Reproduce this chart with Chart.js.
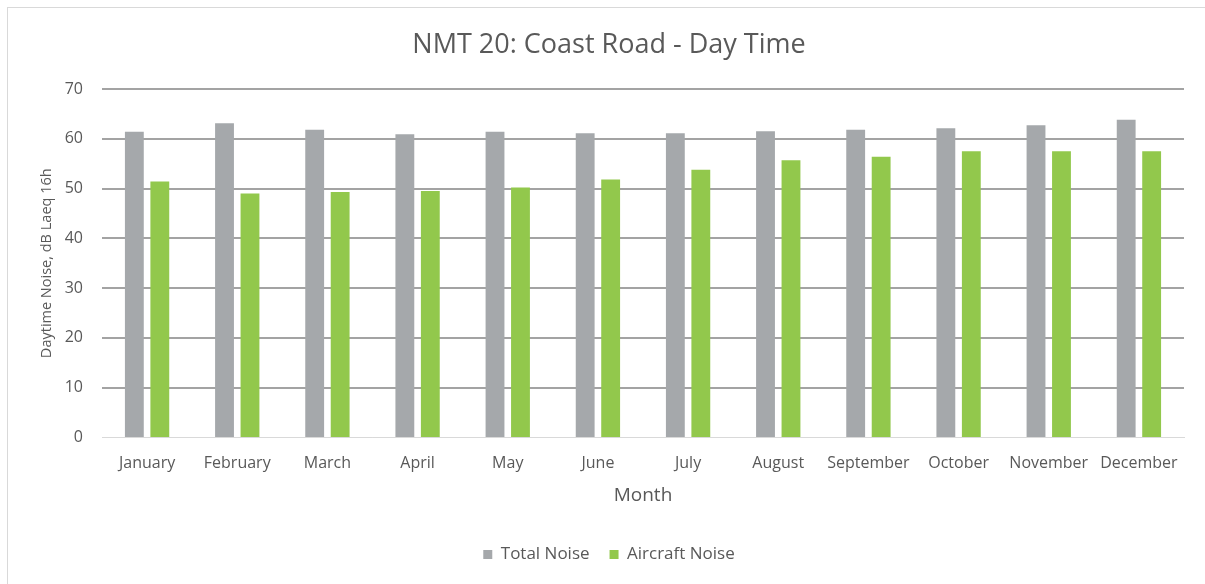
<!DOCTYPE html>
<html><head><meta charset="utf-8">
<script src="https://cdn.jsdelivr.net/npm/chart.js@4"></script>
<style>
html,body{margin:0;padding:0;background:#fff;overflow:hidden;}
#frame{position:absolute;left:7px;top:7px;width:1210px;height:590px;border:1px solid #d9d9d9;box-sizing:border-box;}
#wrap{position:absolute;left:0;top:0;width:1205px;height:584px;}
</style></head>
<body>
<div id="frame"></div>
<div id="wrap"><canvas id="c" width="1205" height="584"></canvas></div>
<script>
const months = ["January","February","March","April","May","June","July","August","September","October","November","December"];
const totalNoise = [61.4, 63.1, 61.8, 60.9, 61.4, 61.1, 61.1, 61.5, 61.8, 62.1, 62.7, 63.8];
const aircraftNoise = [51.4, 49.0, 49.3, 49.5, 50.2, 51.8, 53.8, 55.7, 56.4, 57.5, 57.5, 57.5];
const yTicks = [0, 10, 20, 30, 40, 50, 60, 70];

const FONT = "'Open Sans', 'Liberation Sans', sans-serif";
const TXT = '#595959';

new Chart(document.getElementById('c'), {
  type: 'bar',
  data: {
    labels: months,
    datasets: [
      { label: 'Total Noise', data: totalNoise, backgroundColor: '#a5a8ab', categoryPercentage: 0.565, barPercentage: 0.74 },
      { label: 'Aircraft Noise', data: aircraftNoise, backgroundColor: '#92c84c', categoryPercentage: 0.565, barPercentage: 0.74 }
    ]
  },
  options: {
    responsive: false,
    animation: false,
    layout: { padding: { left: 34, right: 21, top: 29, bottom: 11 } },
    plugins: {
      title: { display: true, text: 'NMT 20: Coast Road - Day Time', color: TXT,
        font: { family: FONT, size: 27, weight: 'normal' }, padding: { top: 0, bottom: 27.6 } },
      legend: { position: 'bottom',
        labels: { color: TXT, font: { family: FONT, size: 17 }, boxWidth: 9, boxHeight: 9, padding: 20 } },
      tooltip: { enabled: false }
    },
    scales: {
      x: {
        grid: { display: false, drawTicks: false },
        border: { color: '#d9d9d9', width: 1 },
        ticks: { color: TXT, font: { family: FONT, size: 16 }, padding: 16, maxRotation: 0, autoSkip: false },
        title: { display: true, text: 'Month', color: TXT, font: { family: FONT, size: 19 }, padding: { top: -4.5, bottom: 19 } }
      },
      y: {
        min: 0, max: 70,
        afterBuildTicks: (s) => { s.ticks = yTicks.map(v => ({ value: v })); },
        afterFit: (s) => { s.width = 68; },
        grid: { drawTicks: false, color: (ctx) => ctx.tick && ctx.tick.value === 0 ? '#d9d9d9' : '#a3a3a3', lineWidth: (ctx) => ctx.tick && ctx.tick.value === 0 ? 1 : 2 },
        border: { display: false },
        ticks: { color: TXT, font: { family: FONT, size: 16 }, padding: 19 },
        title: { display: true, text: 'Daytime Noise, dB Laeq 16h', color: TXT, font: { family: FONT, size: 14.5 }, padding: { top: 4.3, bottom: 0 } }
      }
    }
  }
});
</script>
</body></html>
